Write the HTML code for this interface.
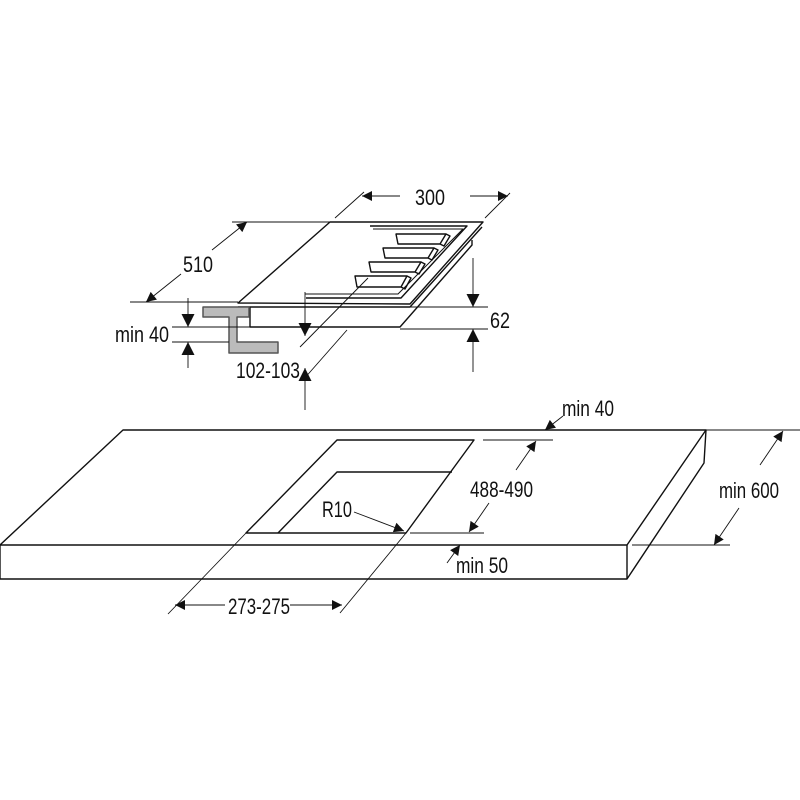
<!DOCTYPE html>
<html><head><meta charset="utf-8"><style>
html,body{margin:0;padding:0;background:#fff;}
svg{display:block}
text{font-family:"Liberation Sans",sans-serif;font-size:22px;fill:#111;}
</style></head><body>
<svg width="800" height="800" viewBox="0 0 800 800" xmlns="http://www.w3.org/2000/svg">
<defs>
<marker id="a" viewBox="0 0 10 10" refX="10" refY="5" markerWidth="25" markerHeight="13" markerUnits="userSpaceOnUse" orient="auto"><path d="M0,0 L10,5 L0,10 Z" fill="#111"/></marker>
<marker id="b" viewBox="0 0 10 10" refX="10" refY="5" markerWidth="22" markerHeight="10" markerUnits="userSpaceOnUse" orient="auto"><path d="M0,0 L10,5 L0,10 Z" fill="#111"/></marker>
</defs>
<g fill="none" stroke="#111" stroke-width="1.4" stroke-linejoin="round">
<path d="M238,303 L330,222 L483,222 L410,304 Z" fill="#fff"/>
<path d="M238,307 L410,307 L482,227"/>
<path d="M250,307 L250,327 L400,327 L472,245 L472,240"/>
<path d="M370,226 L467,226 L401,298 L306,298"/>
<path d="M373,229 L463,229 L398,294 L305,294" stroke-width="1"/>
<path d="M396,234 L446,234 L440,244 L398,244 Z M446,234 L450,236 L444,246 L440,244"/>
<path d="M383,248 L434,248 L428,258 L385,258 Z M434,248 L438,250 L432,260 L428,258"/>
<path d="M369,262 L421,262 L415,272 L371,272 Z M421,262 L425,264 L419,274 L415,272"/>
<path d="M355,276 L407,276 L401,287 L357,287 Z M407,276 L411,278 L405,289 L401,287"/>
<path d="M203,307 L249,307 L249,317 L237,317 L237,342 L278,342 L278,353 L229,353 L229,317 L203,317 Z" fill="#bbb" stroke="#555" stroke-width="1.5"/>
</g>
<g fill="none" stroke="#111" stroke-width="0.9">
<path d="M335,218 L364,192 M485,218 L510,193"/>
<path d="M400,196 L362,196" marker-end="url(#b)"/>
<path d="M470,196 L508,196" marker-end="url(#b)"/>
<path d="M232,222 L330,222 M130,302 L238,302"/>
<path d="M212,250 L247,222" marker-end="url(#b)"/>
<path d="M181,274 L146,302" marker-end="url(#b)"/>
<path d="M172,327 L250,327 M172,342 L229,342"/>
<path d="M188,298 L188,327" marker-end="url(#a)"/>
<path d="M188,368 L188,342" marker-end="url(#a)"/>
<path d="M410,307 L488,307 M400,329 L488,329"/>
<path d="M473,258 L473,307" marker-end="url(#a)"/>
<path d="M473,372 L473,329" marker-end="url(#a)"/>
<path d="M300,347 L368,278 M303,380 L347,330"/>
<path d="M305,292 L305,336" marker-end="url(#a)"/>
<path d="M305,410 L305,368" marker-end="url(#a)"/>
</g>
<g fill="none" stroke="#111" stroke-width="1.4" stroke-linejoin="round">
<path d="M0,545 L123,430 L706,430 L627,545 Z"/>
<path d="M0,545 L0,579 L627,579 L627,545 M627,579 L704,463 L706,430"/>
<path d="M337,440 L474,440 L406,533 L246,533 Z"/>
<path d="M278,533 L337,472 L452,472"/>
</g>
<g fill="none" stroke="#111" stroke-width="0.9">
<path d="M706,430 L800,430 M632,545 L730,545"/>
<path d="M760,465 L783,431" marker-end="url(#b)"/>
<path d="M739,508 L714,545" marker-end="url(#b)"/>
<path d="M563,416 L545,430" marker-end="url(#b)"/>
<path d="M483,440 L553,440 M410,533 L484,533"/>
<path d="M516,470 L536,441" marker-end="url(#b)"/>
<path d="M489,503 L469,532" marker-end="url(#b)"/>
<path d="M447,563 L460,545" marker-end="url(#b)"/>
<path d="M354,512 L404,531" marker-end="url(#b)"/>
<path d="M246,533 L168,614 M406,533 L340,613"/>
<path d="M225,605 L175,605" marker-end="url(#b)"/>
<path d="M290,605 L342,605" marker-end="url(#b)"/>
</g>
<g>
<text x="415" y="205" textLength="30" lengthAdjust="spacingAndGlyphs">300</text>
<text x="183" y="272" textLength="30" lengthAdjust="spacingAndGlyphs">510</text>
<text x="115" y="342" textLength="54" lengthAdjust="spacingAndGlyphs">min 40</text>
<text x="490" y="328" textLength="20" lengthAdjust="spacingAndGlyphs">62</text>
<text x="236" y="378" textLength="64" lengthAdjust="spacingAndGlyphs">102-103</text>
<text x="562" y="416" textLength="52" lengthAdjust="spacingAndGlyphs">min 40</text>
<text x="470" y="497" textLength="63" lengthAdjust="spacingAndGlyphs">488-490</text>
<text x="719" y="498" textLength="60" lengthAdjust="spacingAndGlyphs">min 600</text>
<text x="322" y="517" textLength="30" lengthAdjust="spacingAndGlyphs">R10</text>
<text x="456" y="573" textLength="52" lengthAdjust="spacingAndGlyphs">min 50</text>
<text x="228" y="614" textLength="62" lengthAdjust="spacingAndGlyphs">273-275</text>
</g>
</svg>
</body></html>
